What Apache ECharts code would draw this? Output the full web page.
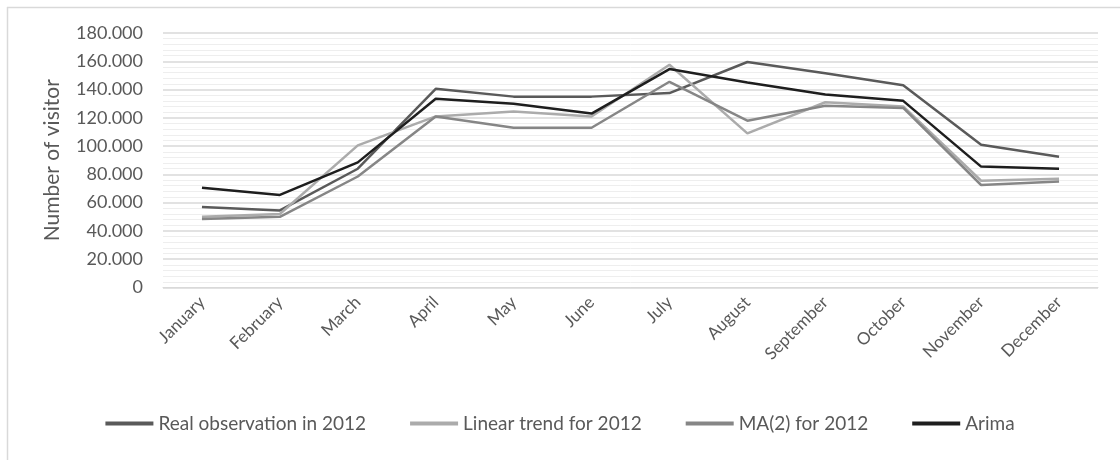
<!DOCTYPE html>
<html>
<head>
<meta charset="utf-8">
<script src="https://cdn.jsdelivr.net/npm/echarts@6/dist/echarts.min.js"></script>
<style>
html,body{margin:0;padding:0;background:#fff;}
#chart{width:1120px;height:460px;}
</style>
</head>
<body>
<div id="chart"></div>
<script>
const months = ['January','February','March','April','May','June','July','August','September','October','November','December'];
const realObs = [57000, 54500, 84000, 140500, 135000, 135000, 137500, 159500, 151500, 143000, 101000, 92500];
const linearTrend = [50000, 52000, 100500, 121000, 124500, 121000, 157500, 109000, 131000, 128000, 75500, 77000];
const ma2 = [48500, 50000, 78500, 121000, 113000, 113000, 145500, 118000, 128500, 127000, 72500, 75000];
const arima = [70500, 65500, 88500, 133500, 130000, 123000, 154500, 145000, 136500, 132000, 85500, 84000];
const yTicks = [0, 20000, 40000, 60000, 80000, 100000, 120000, 140000, 160000, 180000];

const FONT = 'Lato';
const chart = echarts.init(document.getElementById('chart'), null, {renderer: 'canvas'});
function mk(name, data, color, z) {
  return {
    name: name, type: 'line', data: data, symbol: 'none', z: z,
    lineStyle: {color: color, width: 2.5},
    itemStyle: {color: color}
  };
}
chart.setOption({
  animation: false,
  backgroundColor: '#fff',
  textStyle: {fontFamily: FONT},
  graphic: [
    {type: 'line', shape: {x1: 7, y1: 7.5, x2: 1120, y2: 7.5}, style: {stroke: '#d9d9d9', lineWidth: 1.5}},
    {type: 'line', shape: {x1: 7.5, y1: 7, x2: 7.5, y2: 460}, style: {stroke: '#d9d9d9', lineWidth: 1.5}}
  ],
  grid: {left: 163, right: 22, top: 33, bottom: 172.5, containLabel: false},
  legend: {
    bottom: 22, left: 'center',
    icon: 'rect', itemWidth: 48, itemHeight: 4, itemGap: 44,
    textStyle: {color: '#595959', fontSize: 19, fontFamily: FONT},
    data: ['Real observation in 2012', 'Linear trend for 2012', 'MA(2) for 2012', 'Arima']
  },
  xAxis: {
    type: 'category', data: months, boundaryGap: true,
    axisLine: {show: true, lineStyle: {color: '#d9d9d9'}},
    axisTick: {show: false},
    axisLabel: {rotate: 45, color: '#595959', fontSize: 17, fontFamily: FONT, margin: 12, interval: 0}
  },
  yAxis: {
    type: 'value', min: yTicks[0], max: yTicks[yTicks.length - 1], interval: yTicks[1] - yTicks[0],
    name: 'Number of visitor', nameLocation: 'middle', nameRotate: 90, nameGap: 100,
    nameTextStyle: {color: '#595959', fontSize: 21, fontFamily: FONT},
    axisLine: {show: false}, axisTick: {show: false},
    axisLabel: {
      color: '#595959', fontSize: 18, fontFamily: FONT, margin: 20,
      formatter: function (v) { return v === 0 ? '0' : (v / 1000).toFixed(3); }
    },
    splitLine: {show: true, lineStyle: {color: '#d9d9d9', width: 1.5}},
    minorTick: {show: false, splitNumber: 5},
    minorSplitLine: {show: true, lineStyle: {color: '#eeeeee', width: 1}}
  },
  series: [
    mk('Real observation in 2012', realObs, '#5a5a5a', 2),
    mk('Linear trend for 2012', linearTrend, '#ababab', 3),
    mk('MA(2) for 2012', ma2, '#868686', 4),
    mk('Arima', arima, '#1e1e1e', 5)
  ]
});
</script>
</body>
</html>
